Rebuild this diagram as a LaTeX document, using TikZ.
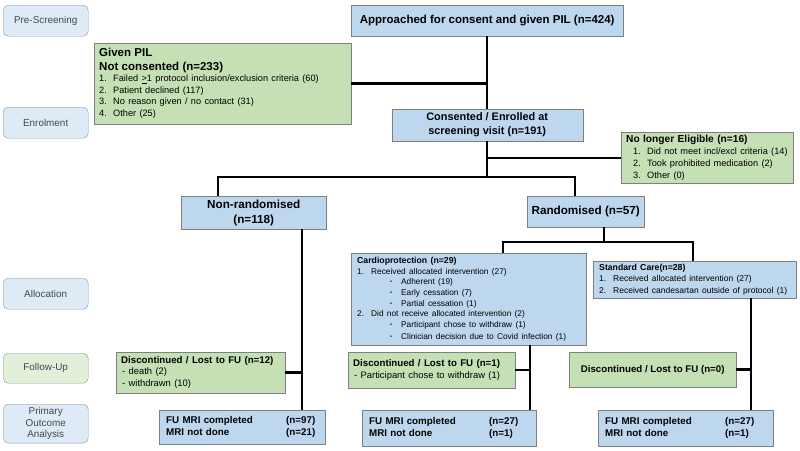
\documentclass[tikz,border=0pt]{standalone}
\usepackage{fontspec}
\setmainfont{Liberation Sans}
\definecolor{BoxBlue}{RGB}{189,215,238}
\definecolor{BoxGreen}{RGB}{197,224,180}
\definecolor{StageBlue}{RGB}{222,235,247}
\definecolor{StageGreen}{RGB}{226,240,217}
\definecolor{EdgeGray}{RGB}{127,127,127}
\definecolor{StageEdge}{RGB}{132,151,176}
\definecolor{StageText}{RGB}{70,70,70}
\newcommand\fsMain{\fontsize{11.7}{14}\selectfont\bfseries}
\newcommand\fsHead{\fontsize{9.7}{11.5}\selectfont\bfseries}
\newcommand\fsList{\fontsize{9.2}{11.6}\selectfont}
\newcommand\fsSmall{\fontsize{8.3}{10.7}\selectfont}
\newcommand\fsSmallHead{\fontsize{8.7}{10.7}\selectfont\bfseries}
\newcommand\lnum[1]{\makebox[14pt][l]{#1}}
\newcommand\bul{\makebox[11pt][l]{\raisebox{1pt}{\fontsize{5.5}{6}\selectfont\textbullet}}}
\tikzstyle{stage} = [draw=StageEdge, fill=StageBlue, rounded corners=5pt, anchor=north west, minimum width=85pt, align=center, text=StageText, font=\fontsize{9.9}{11.5}\selectfont]
\tikzstyle{bluebox} = [draw=EdgeGray, fill=BoxBlue, anchor=north west]
\tikzstyle{greenbox} = [draw=EdgeGray, fill=BoxGreen, anchor=north west]
\tikzstyle{listbox} = [inner xsep=5pt, align=left]
\tikzstyle{link} = [line width=2.5pt]

\begin{document}
\begin{tikzpicture}[x=1pt, y=-1pt]
                \useasboundingbox (0,0) rectangle (800,450);
                \node[stage, minimum height=31pt] (prescreen) at (3,5){Pre-Screening};
                \node[stage, minimum height=31pt] (enrol) at (3,107){Enrolment};
                \node[stage, minimum height=31pt] (alloc) at (3,278){Allocation};
                \node[stage, minimum height=30pt, fill=StageGreen] (follow) at (3,353){Follow-Up};
                \node[stage, minimum height=38pt] (outcome) at (3,404){Primary\\Outcome\\Analysis};

                \node[bluebox, minimum width=272pt, minimum height=31pt, inner xsep=2pt, font=\fontsize{11.5}{14}\selectfont\bfseries] (appr) at (351,5){Approached for consent and given PIL (n=424)};
                \node[greenbox, listbox, text width=247pt, minimum height=81pt] (givenpil) at (94,43){
                    {\fontsize{11.5}{13.3}\selectfont\bfseries Given PIL\\Not consented (n=233)\par}
                    {\fsList \lnum{1.}Failed \underline{>}1 protocol inclusion/exclusion criteria (60)\\
                    \lnum{2.}Patient declined (117)\\
                    \lnum{3.}No reason given / no contact (31)\\
                    \lnum{4.}Other (25)}
                };
                \node[bluebox, minimum width=191pt, minimum height=32pt, align=center, font=\fontsize{10.9}{14}\selectfont\bfseries] (cons) at (391.5,109){Consented / Enrolled at\\screening visit (n=191)};
                \node[greenbox, listbox, text width=162pt, minimum height=51pt] (noelig) at (621,132){
                    {\fontsize{10.2}{11.5}\selectfont\bfseries No longer Eligible (n=16)\par}
                    {\fsList \hspace*{7pt}\lnum{1.}Did not meet incl/excl criteria (14)\\
                    \hspace*{7pt}\lnum{2.}Took prohibited medication (2)\\
                    \hspace*{7pt}\lnum{3.}Other (0)}
                };
                \node[bluebox, minimum width=145pt, minimum height=31pt, align=center, font=\fontsize{11.7}{15}\selectfont\bfseries] (nonrand) at (181,196){Non-randomised\\(n=118)};
                \node[bluebox, minimum width=117pt, minimum height=31pt, inner xsep=1pt, font=\fsMain] (rand) at (527,196){Randomised (n=57)};

                \node[bluebox, listbox, inner xsep=6pt, text width=223pt, minimum height=92pt] (cardio) at (351,253){
                    {\fsSmallHead Cardioprotection (n=29)\par}
                    {\fsSmall \lnum{1.}Received allocated intervention (27)\\
                    \hspace*{33pt}\bul Adherent (19)\\
                    \hspace*{33pt}\bul Early cessation (7)\\
                    \hspace*{33pt}\bul Partial cessation (1)\\
                    \lnum{2.}Did not receive allocated intervention (2)\\
                    \hspace*{33pt}\bul Participant chose to withdraw (1)\\
                    \hspace*{33pt}\bul Clinician decision due to Covid infection (1)}
                };
                \node[bluebox, listbox, inner xsep=6pt, text width=191pt, minimum height=36pt] (stdcare) at (593,261){
                    {\fsSmallHead Standard Care(n=28)\par}
                    {\fontsize{8.5}{10.2}\selectfont \lnum{1.}Received allocated intervention (27)\\
                    \lnum{2.}Received candesartan outside of protocol (1)}
                };

                \node[greenbox, listbox, text width=159pt, minimum height=41pt] (disc1) at (116,352){
                    {\fsHead Discontinued / Lost to FU (n=12)\par}
                    {\fontsize{9.4}{10.8}\selectfont\hspace*{1pt}- death (2)\\
                    \hspace*{1pt}- withdrawn (10)}
                };
                \node[greenbox, listbox, text width=157pt, minimum height=36pt] (disc2) at (348,352){
                    {\fsHead Discontinued / Lost to FU (n=1)\par}
                    {\fontsize{9.4}{11.5}\selectfont\hspace*{1pt}- Participant chose to withdraw (1)}
                };
                \node[greenbox, minimum width=167pt, minimum height=35pt, font=\fsHead] (disc3) at (569,352){Discontinued / Lost to FU (n=0)};

                \node[bluebox, listbox, inner xsep=7pt, text width=152pt, minimum height=34pt, font=\fontsize{9.8}{11.5}\selectfont\bfseries] (fu1) at (159,410){\makebox[120pt][l]{FU MRI completed}(n=97)\\\makebox[120pt][l]{MRI not done}(n=21)};
                \node[bluebox, listbox, inner xsep=7pt, text width=160pt, minimum height=36pt, font=\fontsize{9.8}{11.5}\selectfont\bfseries] (fu2) at (362,410){\makebox[120pt][l]{FU MRI completed}(n=27)\\\makebox[120pt][l]{MRI not done}(n=1)};
                \node[bluebox, listbox, inner xsep=7pt, text width=161pt, minimum height=36pt, font=\fontsize{9.8}{11.5}\selectfont\bfseries] (fu3) at (598,410){\makebox[120pt][l]{FU MRI completed}(n=27)\\\makebox[120pt][l]{MRI not done}(n=1)};

                \coordinate (jnr) at (218,177);
                \coordinate (jr) at (575,177);
                \coordinate (nrdrop) at (302,0);
                \coordinate (rdrop) at (604,242);
                \coordinate (jc) at (503,242);
                \coordinate (js) at (693,242);
                \coordinate (cdrop) at (530,0);
                \coordinate (sdrop) at (751,0);

                \draw[link] (appr.south) -- (appr.south |- cons.north);
                \draw[link] (givenpil.east) -- (givenpil.east -| appr.south);
                \draw[link] (cons.south) -- (cons.south |- jnr);
                \draw[link] (noelig.west) -- (noelig.west -| cons.south);
                \draw[link] (jnr |- nonrand.north) -- (jnr) -- (jr) -- (jr |- rand.north);
                \draw[link] (nrdrop |- nonrand.south) -- (nrdrop |- fu1.north);
                \draw[link] (disc1.east) -- (disc1.east -| nrdrop);
                \draw[link] (rdrop |- rand.south) -- (rdrop);
                \draw[link] (jc |- cardio.north) -- (jc) -- (js) -- (js |- stdcare.north);
                \draw[link] (cdrop |- cardio.south) -- (cdrop |- fu2.north);
                \draw[link] (disc2.east) -- (disc2.east -| cdrop);
                \draw[link] (sdrop |- stdcare.south) -- (sdrop |- fu3.north);
                \draw[link] (disc3.east) -- (disc3.east -| sdrop);
             \end{tikzpicture}
\end{document}
